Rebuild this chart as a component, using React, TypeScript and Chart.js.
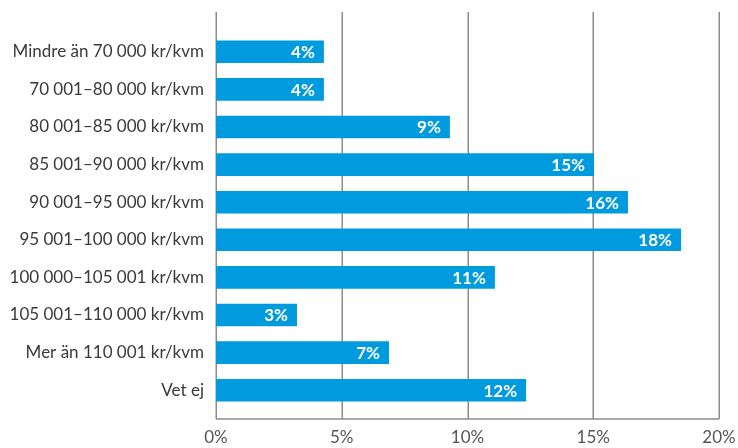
import React, { useEffect, useRef } from "react";
import { Chart, registerables } from "chart.js";

Chart.register(...registerables);

const categories = [
  "Mindre än 70 000 kr/kvm",
  "70 001–80 000 kr/kvm",
  "80 001–85 000 kr/kvm",
  "85 001–90 000 kr/kvm",
  "90 001–95 000 kr/kvm",
  "95 001–100 000 kr/kvm",
  "100 000–105 001 kr/kvm",
  "105 001–110 000 kr/kvm",
  "Mer än 110 001 kr/kvm",
  "Vet ej",
];
const values = [4.29, 4.29, 9.3, 15.03, 16.38, 18.49, 11.09, 3.22, 6.88, 12.33];
const valueLabels = ["4%", "4%", "9%", "15%", "16%", "18%", "11%", "3%", "7%", "12%"];
const xTicks = [0, 5, 10, 15, 20];

const FONT = "Lato, 'Open Sans', sans-serif";
const GRID = "#8c8c8c";

const gridPlugin = {
  id: "extGrid",
  beforeDatasetsDraw(chart: any) {
    const { ctx, chartArea } = chart;
    const xs = chart.scales.x;
    const top = chartArea.top - 21;
    const bottom = chartArea.bottom + 10;
    ctx.save();
    ctx.strokeStyle = GRID;
    ctx.lineWidth = 1.5;
    xTicks.forEach((v) => {
      const x = Math.round(xs.getPixelForValue(v)) + 0.25;
      ctx.beginPath();
      ctx.moveTo(x, top);
      ctx.lineTo(x, bottom);
      ctx.stroke();
    });
    ctx.beginPath();
    ctx.moveTo(xs.getPixelForValue(xTicks[0]), bottom);
    ctx.lineTo(xs.getPixelForValue(xTicks[xTicks.length - 1]), bottom);
    ctx.stroke();
    ctx.restore();
  },
};

const labelPlugin = {
  id: "barLabels",
  afterDatasetsDraw(chart: any) {
    const { ctx } = chart;
    const meta = chart.getDatasetMeta(0);
    ctx.save();
    ctx.fillStyle = "#ffffff";
    ctx.font = `bold 17px ${FONT}`;
    ctx.textAlign = "right";
    ctx.textBaseline = "middle";
    meta.data.forEach((bar: any, i: number) => {
      ctx.fillText(valueLabels[i], bar.x - 9, bar.y + 1);
    });
    ctx.restore();
  },
};

export default function App() {
  const ref = useRef<HTMLCanvasElement | null>(null);
  useEffect(() => {
    if (!ref.current) return;
    const chart = new Chart(ref.current, {
      type: "bar",
      data: {
        labels: categories,
        datasets: [
          {
            data: values,
            backgroundColor: "#009bde",
            borderWidth: 0,
            barPercentage: 0.6,
            categoryPercentage: 1,
          },
        ],
      },
      options: {
        indexAxis: "y",
        animation: false,
        responsive: false,
        layout: { padding: { top: 33, right: 19, left: 0, bottom: 0 } },
        plugins: { legend: { display: false }, tooltip: { enabled: false } },
        scales: {
          x: {
            min: 0,
            max: 20,
            afterFit: (s: any) => {
              s.height = 39;
              s.paddingLeft = 0;
              s.paddingRight = 0;
            },
            afterBuildTicks: (s: any) => {
              s.ticks = xTicks.map((v) => ({ value: v }));
            },
            grid: { display: false, drawTicks: false },
            border: { display: false },
            ticks: {
              padding: 18,
              color: "#555555",
              font: { family: FONT, size: 17 },
              maxRotation: 0,
              callback: (v: any) => `${v}%`,
            },
          },
          y: {
            afterFit: (s: any) => {
              s.width = 216;
            },
            grid: { display: false, drawTicks: false },
            border: { display: false },
            ticks: {
              padding: 12,
              color: "#3a3a3a",
              font: { family: FONT, size: 17 },
            },
          },
        },
      },
      plugins: [gridPlugin, labelPlugin],
    });
    return () => chart.destroy();
  }, []);
  return (
    <div style={{ position: "fixed", left: 0, top: 0, width: 738, height: 448, background: "#fff" }}>
      <canvas ref={ref} width={738} height={448} style={{ width: 738, height: 448 }} />
    </div>
  );
}
